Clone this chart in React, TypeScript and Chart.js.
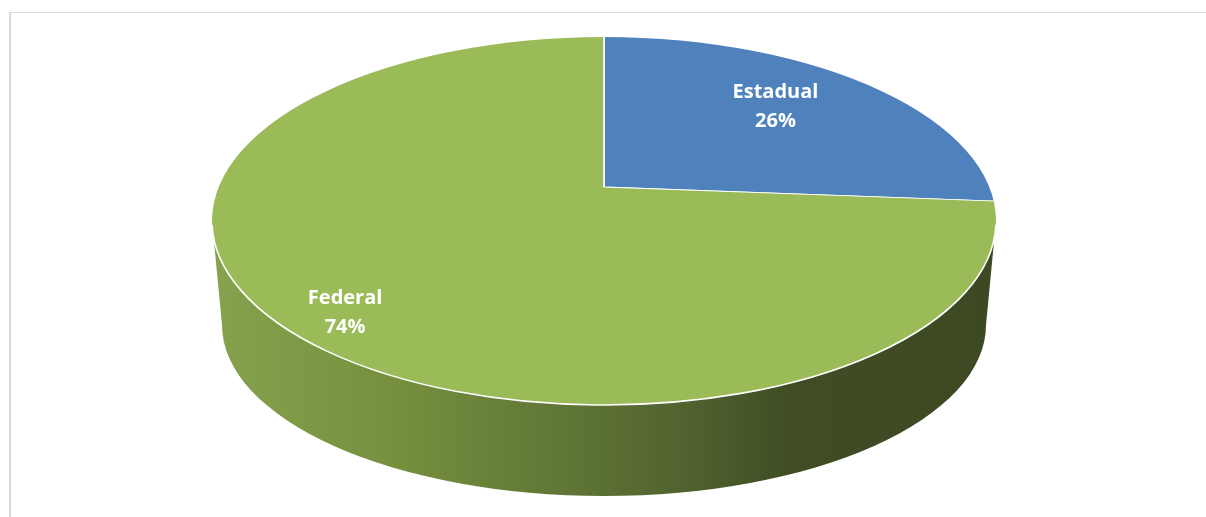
import React, { useEffect, useRef } from 'react';
import { Chart, registerables } from 'chart.js';

Chart.register(...registerables);

const categories: string[] = ['Estadual', 'Federal'];
const values: number[] = [26, 74];
const percentLabels: string[] = ['26%', '74%'];
const sliceColors: string[] = ['#4F81BD', '#9BBB59'];

// geometry of the tilted pie (presentation only)
const CX = 604;
const VERTEX_Y = 187; // projected centre of the pie
const TOP_CY = 221; // centre of the visible top ellipse
const TOP_RX = 392;
const TOP_RY = 184;
const BOT_CY = 325;
const BOT_RX = 382;
const BOT_RY = 171;
const LABEL_K = [0.6, 0.906];

const pie3d = {
  id: 'pie3d',
  beforeDraw(chart: any) {
    const ctx = chart.ctx;
    ctx.save();
    ctx.fillStyle = '#ffffff';
    ctx.fillRect(0, 0, chart.width, chart.height);
    ctx.fillStyle = '#d9d9d9';
    ctx.fillRect(9, 12, 2, chart.height - 12);
    ctx.fillRect(9, 12, chart.width - 9, 1);
    ctx.restore();
  },
  beforeDatasetsDraw(chart: any) {
    const ctx = chart.ctx as CanvasRenderingContext2D;
    const meta = chart.getDatasetMeta(0);
    const arcs = meta.data as any[];
    if (!arcs.length) return false;

    // side wall
    ctx.save();
    const g = ctx.createLinearGradient(CX - TOP_RX, 0, CX + TOP_RX, 0);
    g.addColorStop(0, '#87a24d');
    g.addColorStop(0.23, '#76903f');
    g.addColorStop(0.5, '#5b7034');
    g.addColorStop(0.62, '#4f602e');
    g.addColorStop(0.74, '#3f4c24');
    g.addColorStop(1, '#3d4922');
    ctx.beginPath();
    ctx.moveTo(CX - TOP_RX, TOP_CY);
    ctx.lineTo(CX - BOT_RX, BOT_CY);
    ctx.ellipse(CX, BOT_CY, BOT_RX, BOT_RY, 0, Math.PI, 0, true);
    ctx.lineTo(CX + TOP_RX, TOP_CY);
    ctx.ellipse(CX, TOP_CY, TOP_RX, TOP_RY, 0, 0, Math.PI, false);
    ctx.closePath();
    ctx.fillStyle = g;
    ctx.fill();
    ctx.restore();

    // top surface: library arcs, projected
    const R = arcs[0].outerRadius;
    const ax = arcs[0].x;
    const ay = arcs[0].y;
    const SX = 620 / R;
    const SY = SX * 0.572;
    ctx.save();
    ctx.beginPath();
    ctx.ellipse(CX, TOP_CY, TOP_RX, TOP_RY, 0, 0, Math.PI * 2);
    ctx.clip();
    ctx.translate(CX, VERTEX_Y);
    ctx.scale(SX, SY);
    ctx.translate(-ax, -ay);
    arcs.forEach((a) => a.draw(ctx));
    ctx.restore();

    // rim highlight
    ctx.save();
    ctx.beginPath();
    ctx.ellipse(CX, TOP_CY, TOP_RX, TOP_RY, 0, 0.02, Math.PI - 0.02, false);
    ctx.strokeStyle = '#ffffff';
    ctx.lineWidth = 1.6;
    ctx.stroke();
    ctx.restore();

    // labels
    ctx.save();
    ctx.fillStyle = '#ffffff';
    ctx.font = 'bold 20px "Open Sans"';
    ctx.textAlign = 'center';
    ctx.textBaseline = 'alphabetic';
    arcs.forEach((a, i) => {
      const mid = (a.startAngle + a.endAngle) / 2;
      const k = LABEL_K[i];
      const lx = CX + k * TOP_RX * Math.cos(mid);
      const ly = VERTEX_Y + k * 200 * Math.sin(mid);
      ctx.fillText(categories[i], lx, ly - 7);
      ctx.fillText(percentLabels[i], lx, ly + 22);
    });
    ctx.restore();
    return false;
  },
};

export default function App() {
  const canvasRef = useRef<HTMLCanvasElement | null>(null);

  useEffect(() => {
    if (!canvasRef.current) return;
    const chart = new Chart(canvasRef.current, {
      type: 'pie',
      data: {
        labels: categories,
        datasets: [
          {
            data: values,
            backgroundColor: sliceColors,
            borderColor: '#ffffff',
            borderWidth: 0.7,
          },
        ],
      },
      options: {
        responsive: false,
        animation: false,
        devicePixelRatio: 1,
        events: [],
        plugins: {
          legend: { display: false },
          tooltip: { enabled: false },
        },
      },
      plugins: [pie3d],
    });
    return () => chart.destroy();
  }, []);

  return (
    <div style={{ position: 'absolute', left: 0, top: 0, width: 1206, height: 517 }}>
      <canvas ref={canvasRef} width={1206} height={517} style={{ display: 'block' }} />
    </div>
  );
}
